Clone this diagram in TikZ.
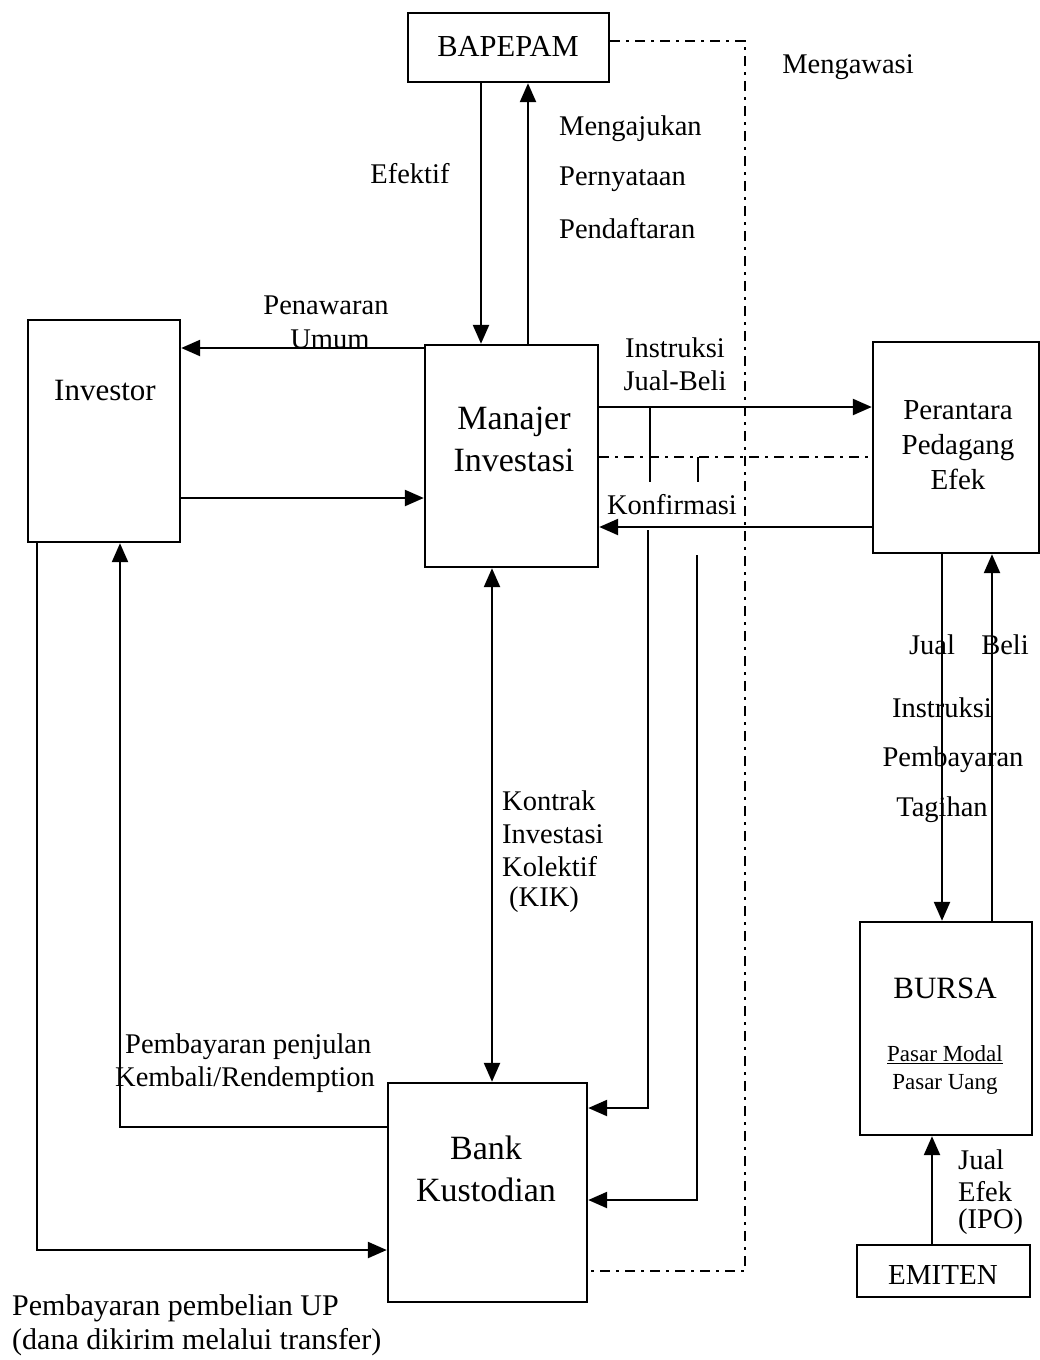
\documentclass[tikz,border=0pt]{standalone}
\usepackage{fontspec}
\setmainfont{Liberation Serif}
\usetikzlibrary{arrows.meta}
\begin{document}
\begin{tikzpicture}[x=1pt,y=-1pt,
  box/.style={draw,line width=2.4pt,inner sep=0pt},
  arr/.style={line width=2.4pt,-{Triangle[length=19pt,width=16pt]}},
  darr/.style={line width=2.4pt,{Triangle[length=19pt,width=16pt]}-{Triangle[length=19pt,width=16pt]}},
  ln/.style={line width=2.4pt},
  dd/.style={line width=2.6pt,dash pattern=on 10pt off 6pt on 3pt off 6pt},
  lab/.style={font=\fontsize{28.5}{34}\selectfont,inner sep=0pt},
  boxtext/.style={font=\fontsize{30}{35}\selectfont,inner sep=0pt,align=center},
]
\useasboundingbox (0,0) rectangle (1040,1360);

% boxes
\node[box,minimum width=201pt,minimum height=69pt] (bap) at (508.5,47.5) {};
\node[box,minimum width=152pt,minimum height=222pt] (inv) at (104,431) {};
\node[box,minimum width=173pt,minimum height=222pt] (man) at (511.5,456) {};
\node[box,minimum width=166pt,minimum height=211pt] (per) at (956,447.5) {};
\node[box,minimum width=172pt,minimum height=213pt] (bursa) at (946,1028.5) {};
\node[box,minimum width=173pt,minimum height=52pt] (emi) at (943.5,1271) {};
\node[box,minimum width=199pt,minimum height=219pt] (bank) at (487.5,1192.5) {};

% box texts
\node[boxtext,font=\fontsize{30.5}{35}\selectfont] (tbap) at (508,46) {BAPEPAM};
\node[boxtext,font=\fontsize{31}{35}\selectfont] (tinv) at (105,390) {Investor};
\node[boxtext,font=\fontsize{34}{42}\selectfont] (tman) at (514,439) {Manajer\\Investasi};
\node[boxtext,font=\fontsize{29}{35}\selectfont] (tper) at (958,445) {Perantara\\Pedagang\\Efek};
\node[boxtext,font=\fontsize{31}{35}\selectfont] (tbursa) at (945,988) {BURSA};
\node[boxtext,font=\fontsize{23}{28}\selectfont] (tpasar) at (945,1070) {\underline{Pasar Modal}\\Pasar Uang};
\node[boxtext,font=\fontsize{29}{35}\selectfont] (temi) at (943,1275) {EMITEN};
\node[boxtext,font=\fontsize{34}{42}\selectfont] (tbank) at (486,1169) {Bank\\Kustodian};

% helper coordinates
\coordinate (xE) at (481,0);
\coordinate (xM) at (528,0);
\coordinate (yMg) at (0,41);
\coordinate (c1) at (745,41);
\coordinate (c2) at (745,1271);
\coordinate (yBk) at (0,1271);
\coordinate (yPen) at (0,348);
\coordinate (yInv) at (0,498);
\coordinate (yIns) at (0,407);
\coordinate (yDd) at (0,457);
\coordinate (yKon) at (0,527);
\coordinate (t1a) at (650,407);
\coordinate (t1b) at (650,482);
\coordinate (t2a) at (698,457);
\coordinate (t2b) at (698,482);
\coordinate (l1a) at (648,530);
\coordinate (l1b) at (648,1108);
\coordinate (l2a) at (697,555);
\coordinate (l2b) at (697,1200);
\coordinate (xK) at (492,0);
\coordinate (r1) at (120,1127);
\coordinate (xR) at (120,0);
\coordinate (p1) at (37,1250);
\coordinate (xP) at (37,0);
\coordinate (xJ) at (942,0);
\coordinate (xB) at (992,0);
\coordinate (xI) at (932,0);

% connectors
\draw[arr] (xE |- bap.south) -- (xE |- man.north);
\draw[arr] (xM |- man.north) -- (xM |- bap.south);
\draw[dd] (bap.east |- yMg) -- (c1) -- (c2) -- (bank.east |- yBk);
\draw[arr] (man.west |- yPen) -- (inv.east |- yPen);
\draw[arr] (inv.east |- yInv) -- (man.west |- yInv);
\draw[arr] (man.east |- yIns) -- (per.west |- yIns);
\draw[dd] (man.east |- yDd) -- (per.west |- yDd);
\draw[arr] (per.west |- yKon) -- (man.east |- yKon);
\draw[ln] (t1a) -- (t1b);
\draw[ln] (t2a) -- (t2b);
\draw[arr] (l1a) -- (l1b) -- (bank.east |- l1b);
\draw[arr] (l2a) -- (l2b) -- (bank.east |- l2b);
\draw[darr] (xK |- man.south) -- (xK |- bank.north);
\draw[arr] (bank.west |- r1) -- (r1) -- (xR |- inv.south);
\draw[arr] (xP |- inv.south) -- (p1) -- (bank.west |- p1);
\draw[arr] (xJ |- per.south) -- (xJ |- bursa.north);
\draw[arr] (xB |- bursa.north) -- (xB |- per.south);
\draw[arr] (xI |- emi.north) -- (xI |- bursa.south);

% labels
\node[lab] (lEf) at (410,174) {Efektif};
\node[lab,anchor=west] (lMj1) at (559,129) {Mengajukan};
\node[lab,anchor=west] (lMj2) at (559,179) {Pernyataan};
\node[lab,anchor=west] (lMj3) at (559,229) {Pendaftaran};
\node[lab] (lMg) at (848,67) {Mengawasi};
\node[lab] (lPw1) at (326,305) {Penawaran};
\node[lab] (lPw2) at (330,339) {Umum};
\node[lab] (lIn1) at (675,348) {Instruksi};
\node[lab] (lIn2) at (675,381) {Jual-Beli};
\node[lab] (lKf) at (672,505) {Konfirmasi};
\node[lab,anchor=west] (lK1) at (502,801) {Kontrak};
\node[lab,anchor=west] (lK2) at (502,834) {Investasi};
\node[lab,anchor=west] (lK3) at (502,867) {Kolektif};
\node[lab,anchor=west] (lK4) at (509,900) {(KIK)};
\node[lab] (lJ) at (932,645) {Jual};
\node[lab] (lB) at (1005,645) {Beli};
\node[lab] (lT1) at (942,708) {Instruksi};
\node[lab] (lT2) at (953,760) {Pembayaran};
\node[lab] (lT3) at (942,810) {Tagihan};
\node[lab,anchor=west] (lR1) at (125,1047) {Pembayaran penjulan};
\node[lab,anchor=west] (lR2) at (115,1080) {Kembali/Rendemption};
\node[lab,anchor=west,font=\fontsize{30}{36}\selectfont] (lU1) at (12,1308) {Pembayaran pembelian UP};
\node[lab,anchor=west,font=\fontsize{30}{36}\selectfont] (lU2) at (12,1342) {(dana dikirim melalui transfer)};
\node[lab,anchor=west] (lE1) at (958,1160) {Jual};
\node[lab,anchor=west] (lE2) at (958,1192) {Efek};
\node[lab,anchor=west] (lE3) at (958,1222) {(IPO)};
\end{tikzpicture}
\end{document}
